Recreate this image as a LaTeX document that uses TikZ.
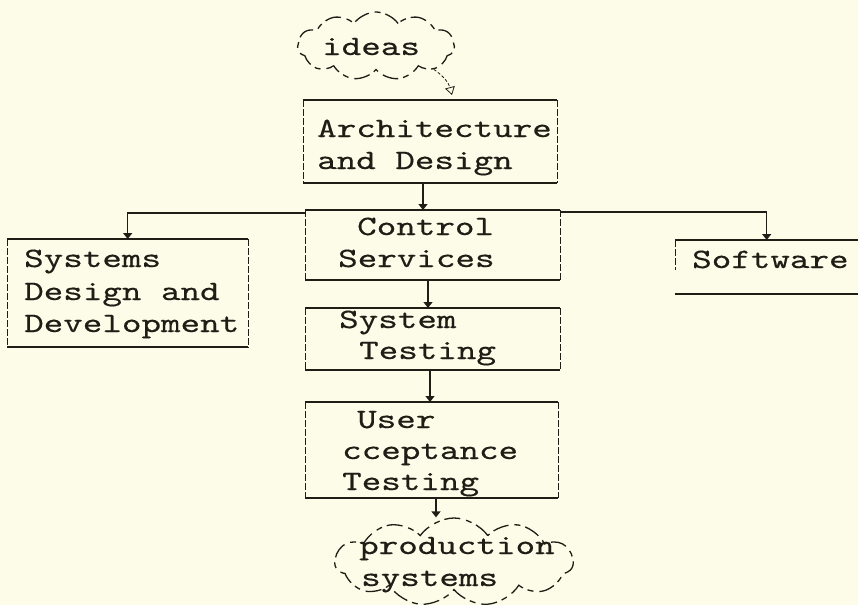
\documentclass[tikz,border=0pt]{standalone}
\usepackage{fontspec}
\newfontfamily\tw{lmmono10-regular.otf}[FakeStretch=1.33,FakeBold=0.4]
\usetikzlibrary{shapes.symbols,arrows.meta,calc}
\definecolor{paper}{RGB}{252,252,232}
\definecolor{ink}{RGB}{30,30,22}
\begin{document}
\begin{tikzpicture}[x=1pt,y=-1pt,
  txt/.style={font=\tw\fontsize{28}{32}\selectfont, text=ink, anchor=base west, inner sep=0pt},
  boxarea/.style={draw=none, inner sep=0pt, anchor=north west},
  rim/.style={ink, line width=1.9pt},
  side/.style={ink, line width=0.7pt, dash pattern=on 7pt off 2pt},
  conn/.style={ink, line width=1.3pt, -{Triangle[width=9pt,length=6pt]}},
  thought/.style={cloud, cloud puffs=11, cloud puff arc=110, cloud ignores aspect, draw=ink, line width=1.3pt, dash pattern=on 16pt off 5pt on 6pt off 6pt, inner sep=0pt}
]
\path[fill=paper] (0,0) rectangle (858,605);
\useasboundingbox (0,0) rectangle (858,605);

% boxes
\node[boxarea, minimum width=254pt, minimum height=83pt] (arch) at (303,100) {};
\node[boxarea, minimum width=255pt, minimum height=70pt] (control) at (305,210) {};
\node[boxarea, minimum width=241pt, minimum height=108pt] (systems) at (7,239) {};
\node[boxarea, minimum width=183pt, minimum height=54pt] (software) at (675,240) {};
\node[boxarea, minimum width=255pt, minimum height=62pt] (stest) at (305,308) {};
\node[boxarea, minimum width=253pt, minimum height=96pt] (uat) at (305,402) {};

\foreach \b in {arch,control,systems,stest,uat}{
  \draw[rim] (\b.north west) -- (\b.north east);
  \draw[rim] (\b.south west) -- (\b.south east);
  \draw[side] (\b.north west) -- (\b.south west);
  \draw[side] (\b.north east) -- (\b.south east);
}
\draw[rim] (software.north west) -- (software.north east);
\draw[rim] (software.south west) -- (software.south east);
\draw[side] (software.north west) -- ($(software.north west)!0.55!(software.south west)$);

% clouds
\node[thought, minimum width=157pt, minimum height=68pt] (ideas) at (376,46) {};
\node[thought, minimum width=238pt, minimum height=88pt] (prod) at (454,562) {};

% texts
\node[txt] (t-id) at (322,55) {ideas};
\node[txt] (t-arch1) at (317,137) {Architecture};
\node[txt] (t-arch2) at (317,169) {and Design};
\node[txt] (t-ctl1) at (357,235) {Control};
\node[txt] (t-ctl2) at (338,267) {Services};
\node[txt] (t-sys1) at (24,267) {Systems};
\node[txt] (t-sys2) at (24,300) {Design and};
\node[txt] (t-sys3) at (24,332) {Development};
\node[txt] (t-sw) at (692,268) {Software};
\node[txt] (t-st1) at (339,328) {System};
\node[txt] (t-st2) at (359,359) {Testing};
\node[txt] (t-u1) at (357,428) {User};
\node[txt] (t-u2) at (342,459) {cceptance};
\node[txt] (t-u3) at (342,490) {Testing};
\node[txt] (t-p1) at (359,554) {production};
\node[txt] (t-p2) at (361,586) {systems};

% connectors
\coordinate (ideastip) at (452,95);
\coordinate (c1) at (423,0);
\coordinate (c2) at (428,0);
\coordinate (c3) at (430,0);
\coordinate (c4) at (436,0);
\draw[ink, line width=0.8pt, dash pattern=on 3pt off 2pt, -{Triangle[open, width=10pt, length=8pt]}] (ideas.-22) to[bend left=20] (ideastip);
\draw[conn] (arch.south -| c1) -- (control.north -| c1);
\draw[conn] ([yshift=-3pt]control.north west) -| (systems.north);
\draw[conn] ([yshift=-2pt]control.north east) -| (software.north);
\draw[conn] (control.south -| c2) -- (stest.north -| c2);
\draw[conn] (stest.south -| c3) -- (uat.north -| c3);
\draw[conn] (uat.south -| c4) -- (prod.north -| c4);
\end{tikzpicture}
\end{document}
